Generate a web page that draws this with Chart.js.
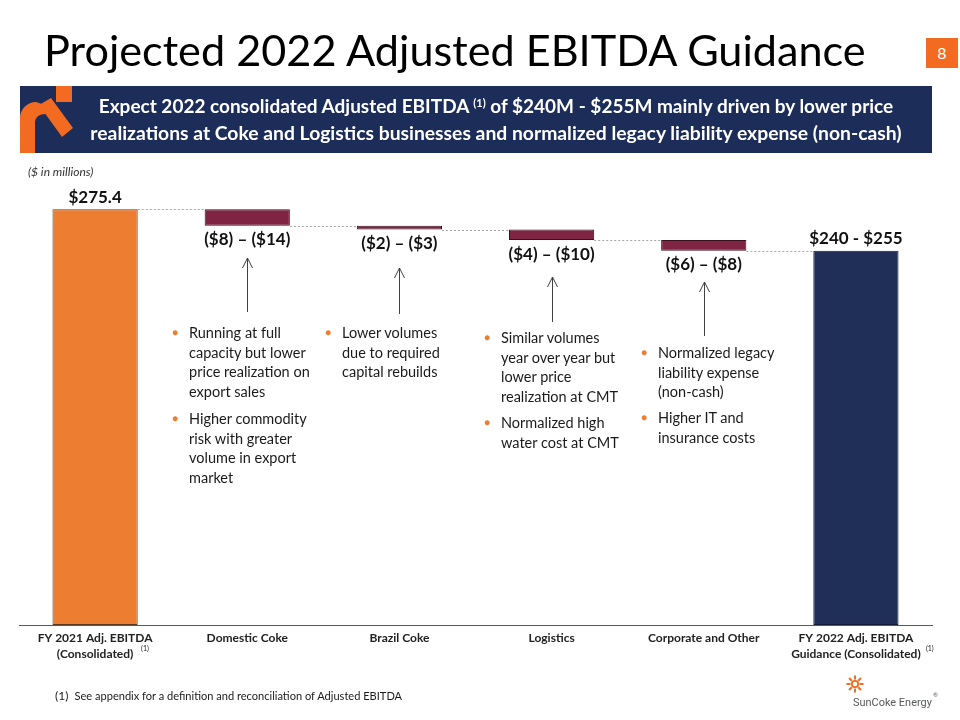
<!DOCTYPE html>
<html>
<head>
<meta charset="utf-8">
<script src="https://cdn.jsdelivr.net/npm/chart.js@4"></script>
<style>
  html, body { margin:0; padding:0; background:#fff; }
  body { width:960px; height:720px; position:relative; overflow:hidden; font-family: Lato, "Open Sans", sans-serif; }
  #chartWrap { position:absolute; left:0; top:0; width:960px; height:720px; }
  .abs { position:absolute; white-space:nowrap; }
  #title { left:44px; top:18px; height:60px; line-height:60px; font-size:48px; color:#000; }
  #banner { position:absolute; left:20px; top:86px; width:912px; height:67px; background:#1D2D59; }
  .bline { color:#fff; font-weight:bold; font-size:19px; line-height:26px; }
  .bline sup { font-size:11px; vertical-align: 6px; line-height:0; }
  #units { left:28px; top:164px; font-size:12px; font-style:italic; color:#333; line-height:16px; }
  .blt { position:absolute; font-size:14.5px; line-height:19.5px; color:#1a1a1a; white-space:nowrap; }
  .blt .dot { position:absolute; left:-17px; top:0; color:#ED7D31; font-size:10px; }
  #pg { left:926px; top:38px; width:32px; height:30px; background:#F26B21; color:#fff; font-size:16px; line-height:30px; text-align:center; }
  #foot { left:55px; top:688px; font-size:12px; line-height:16px; color:#1a1a1a; }
  #logoText { left:853px; top:694px; font-size:13px; line-height:16px; color:#58595B; font-family: Roboto, Lato, sans-serif; }
  #logoSup { left:933px; top:691px; font-size:6px; color:#58595B; }
</style>
</head>
<body>
<div id="chartWrap"><canvas id="c" width="960" height="720"></canvas></div>

<div class="abs" id="title"><span id="titleText">Projected 2022 Adjusted EBITDA Guidance</span></div>
<div class="abs" id="pg">8</div>

<div id="banner">
  <svg width="60" height="67" style="position:absolute;left:0;top:0">
    <rect x="36" y="0" width="16" height="16" fill="#F26B21"/>
    <path d="M0,67 L0,32 A16,16 0 0 1 16,16 L22,18 L28,28 Q16,27 15,36 L15,67 Z" fill="#F26B21"/>
    <polygon points="19,19 31,12 53,42 42,51" fill="#F26B21"/>
  </svg>
  <div class="abs bline" style="left:0;width:952px;top:7px;text-align:center"><span id="b1">Expect 2022 consolidated Adjusted EBITDA <sup>(1)</sup> of $240M - $255M mainly driven by lower price</span></div>
  <div class="abs bline" style="left:0;width:952px;top:34px;text-align:center"><span id="b2">realizations at Coke and Logistics businesses and normalized legacy liability expense (non-cash)</span></div>
</div>

<div class="abs" id="units">($ in millions)</div>

<div class="blt" style="left:189px;top:323px"><span class="dot">●</span>Running at full<br>capacity but lower<br>price realization on<br>export sales</div>
<div class="blt" style="left:189px;top:409px"><span class="dot">●</span>Higher commodity<br>risk with greater<br>volume in export<br>market</div>
<div class="blt" style="left:342px;top:323px"><span class="dot">●</span>Lower volumes<br>due to required<br>capital rebuilds</div>
<div class="blt" style="left:501px;top:328px"><span class="dot">●</span>Similar volumes<br>year over year but<br>lower price<br>realization at CMT</div>
<div class="blt" style="left:501px;top:413px"><span class="dot">●</span>Normalized high<br>water cost at CMT</div>
<div class="blt" style="left:658px;top:343px"><span class="dot">●</span>Normalized legacy<br>liability expense<br>(non-cash)</div>
<div class="blt" style="left:658px;top:408px"><span class="dot">●</span>Higher IT and<br>insurance costs</div>

<div class="abs" id="foot">(1)&nbsp;&nbsp;<span id="footText">See appendix for a definition and reconciliation of Adjusted EBITDA</span></div>

<svg class="abs" style="left:846px;top:675px" width="18" height="18" viewBox="0 0 18 18">
  <g stroke="#F26B21" stroke-width="2" stroke-linecap="butt">
    <line x1="9" y1="0.5" x2="9" y2="4.5"/><line x1="9" y1="13.5" x2="9" y2="17.5"/>
    <line x1="0.5" y1="9" x2="4.5" y2="9"/><line x1="13.5" y1="9" x2="17.5" y2="9"/>
    <line x1="3" y1="3" x2="5.8" y2="5.8"/><line x1="12.2" y1="12.2" x2="15" y2="15"/>
    <line x1="15" y1="3" x2="12.2" y2="5.8"/><line x1="5.8" y1="12.2" x2="3" y2="15"/>
  </g>
  <circle cx="9" cy="9" r="3.2" fill="none" stroke="#F26B21" stroke-width="1.8"/>
</svg>
<div class="abs" id="logoText"><span id="logoName">SunCoke Energy</span></div>
<div class="abs" id="logoSup">®</div>

<script>
// ---- Data ----
const categories = [
  ['FY 2021 Adj. EBITDA', '(Consolidated)'],
  'Domestic Coke',
  'Brazil Coke',
  'Logistics',
  'Corporate and Other',
  ['FY 2022 Adj. EBITDA', 'Guidance (Consolidated)']
];
const barBottom = [0, 264.4, 261.9, 254.9, 247.9, 0];
const barTop    = [275.4, 275.4, 264.4, 261.9, 254.9, 247.9];
const valueLabels = ['$275.4', '($8) \u2013 ($14)', '($2) \u2013 ($3)', '($4) \u2013 ($10)', '($6) \u2013 ($8)', '$240 - $255'];
const footnoteMarks = ['(1)', '', '', '', '', '(1)'];

// ---- Styles ----
const barColors  = ['#ED7D31', '#7F2443', '#7F2443', '#7F2443', '#7F2443', '#1F2F57'];
const barBorders = ['#5a3a22', '#3a1020', '#3a1020', '#3a1020', '#3a1020', '#141d38'];
const arrowTopY    = [null, 258, 268, 277, 282, null];
const arrowBottomY = [null, 312, 314, 322, 336, null];

// fit helper for header texts
function fitWidth(id, target) {
  const el = document.getElementById(id);
  el.style.display = 'inline-block';
  const w = el.getBoundingClientRect().width;
  const fs = parseFloat(getComputedStyle(el).fontSize);
  el.style.fontSize = (fs * target / w) + 'px';
}
fitWidth('titleText', 822);
fitWidth('b1', 795);
fitWidth('b2', 812);
fitWidth('footText', 328);
fitWidth('logoName', 79);

const annot = {
  id: 'annot',
  beforeDatasetsDraw(chart) {
    const ctx = chart.ctx;
    const meta = chart.getDatasetMeta(0);
    const y = chart.scales.y;
    ctx.save();
    ctx.strokeStyle = '#A6A6A6';
    ctx.lineWidth = 1;
    ctx.setLineDash([2, 2]);
    for (let i = 0; i < meta.data.length - 1; i++) {
      const a = meta.data[i], b = meta.data[i + 1];
      const yy = Math.round(y.getPixelForValue(barTop[i + 1])) + 0.5;
      ctx.beginPath();
      ctx.moveTo(a.x + a.width / 2, yy);
      ctx.lineTo(b.x - b.width / 2, yy);
      ctx.stroke();
    }
    ctx.restore();
  },
  afterDatasetsDraw(chart) {
    const ctx = chart.ctx;
    const meta = chart.getDatasetMeta(0);
    const y = chart.scales.y;
    ctx.save();
    ctx.fillStyle = '#111';
    ctx.font = 'bold 17px Lato, sans-serif';
    ctx.textAlign = 'center';
    ctx.textBaseline = 'middle';
    meta.data.forEach((bar, i) => {
      const isTotal = barBottom[i] === 0;
      if (isTotal) {
        ctx.fillText(valueLabels[i], bar.x, y.getPixelForValue(barTop[i]) - 12);
      } else {
        ctx.fillText(valueLabels[i], bar.x, y.getPixelForValue(barBottom[i]) + 14);
      }
      if (arrowTopY[i] != null) {
        const ax = Math.round(bar.x) + 0.5;
        ctx.strokeStyle = '#404040';
        ctx.lineWidth = 1;
        ctx.beginPath();
        ctx.moveTo(ax, arrowBottomY[i]);
        ctx.lineTo(ax, arrowTopY[i]);
        ctx.moveTo(ax - 5, arrowTopY[i] + 10);
        ctx.lineTo(ax, arrowTopY[i]);
        ctx.lineTo(ax + 5, arrowTopY[i] + 10);
        ctx.stroke();
      }
    });
    // footnote superscripts on x labels
    ctx.font = '7px Lato, sans-serif';
    ctx.fillStyle = '#222';
    ctx.textAlign = 'left';
    meta.data.forEach((bar, i) => {
      if (!footnoteMarks[i]) return;
      const off = i === 0 ? 46 : 70;
      ctx.fillText(footnoteMarks[i], bar.x + off, 649);
    });
    ctx.restore();
  }
};

new Chart(document.getElementById('c'), {
  type: 'bar',
  data: {
    labels: categories,
    datasets: [{
      data: categories.map((_, i) => [barBottom[i], barTop[i]]),
      backgroundColor: barColors,
      borderColor: barBorders,
      borderWidth: 1,
      borderSkipped: false,
      barPercentage: 0.56,
      categoryPercentage: 1
    }]
  },
  options: {
    responsive: false,
    animation: false,
    layout: { padding: { top: 172, left: 19, right: 28, bottom: 0 } },
    plugins: { legend: { display: false }, tooltip: { enabled: false } },
    scales: {
      y: { display: false, min: 0, max: 300 },
      x: {
        grid: { display: false, drawTicks: false },
        border: { display: true, color: '#595959', width: 1 },
        ticks: {
          color: '#222',
          font: { family: 'Lato, sans-serif', size: 12, weight: 'bold', lineHeight: 1.33 },
          padding: 5,
          maxRotation: 0,
          autoSkip: false
        },
        afterFit(scale) { scale.height = 95; }
      }
    }
  },
  plugins: [annot]
});
</script>
</body>
</html>
